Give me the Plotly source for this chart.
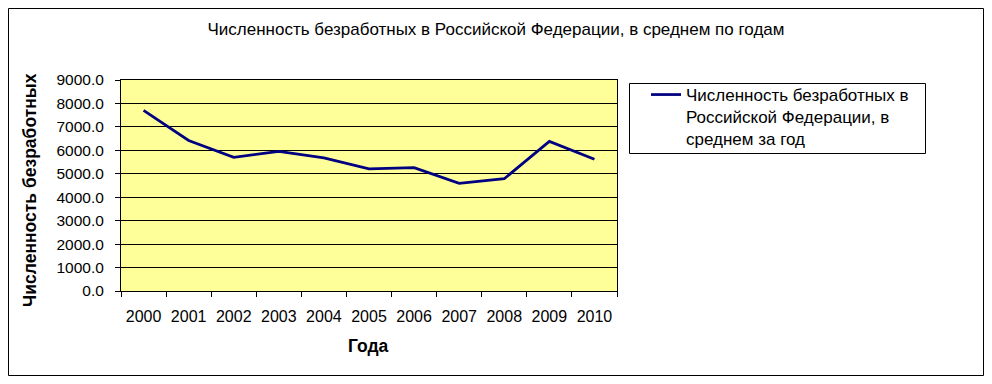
import plotly.graph_objects as go

years = ["2000", "2001", "2002", "2003", "2004", "2005", "2006", "2007", "2008", "2009", "2010"]
unemployed = [7700, 6420, 5700, 5960, 5680, 5210, 5260, 4590, 4790, 6380, 5620]
y_ticks = [0, 1000, 2000, 3000, 4000, 5000, 6000, 7000, 8000, 9000]

# page body has an 8px margin; figure sits at (8, 8) in the window
OFF = 8
W, H = 992 - 2 * OFF, 384 - 2 * OFF
L, R, T, B = 121, 617, 80, 291          # plot area in window pixels
pw, ph = R - L, B - T

def px(x):
    return (x - L) / pw

def py(y):
    return (B - y) / ph

fig = go.Figure()
fig.add_trace(go.Scatter(
    x=years, y=unemployed, mode="lines",
    line=dict(color="#000080", width=2.75),
    name="Численность безработных в<br>Российской Федерации, в<br>среднем за год",
))

fig.update_layout(
    width=W, height=H,
    margin=dict(l=L - OFF, r=W - (R - OFF), t=T - OFF, b=H - (B - OFF), pad=0),
    paper_bgcolor="white",
    plot_bgcolor="#FFFF99",
    font=dict(family="Liberation Sans, Arial, sans-serif", size=16, color="black"),
    showlegend=True,
    title=dict(text="Численность безработных в Российской Федерации, в среднем по годам",
               x=0.5, xanchor="center", xref="container",
               y=1 - (29 - OFF) / H, yanchor="middle", font=dict(size=17)),
    legend=dict(x=px(646), y=py(77), xanchor="left", yanchor="top",
                borderwidth=0, bgcolor="rgba(0,0,0,0)", valign="top",
                font=dict(size=17), tracegroupgap=0),
    xaxis=dict(type="category", tickson="boundaries", ticks="outside", ticklen=5,
               tickcolor="black", showline=True, linecolor="black", linewidth=1,
               showgrid=False, mirror=True, range=[-0.5, 10.5],
               tickfont=dict(size=16), ticklabelstandoff=11),
    yaxis=dict(range=[0, 9000], tickvals=y_ticks, tickformat=".1f", ticks="outside",
               ticklen=5, tickcolor="black", showline=True, linecolor="black",
               linewidth=1, mirror=True, showgrid=True, gridcolor="black", gridwidth=1,
               zeroline=False, tickfont=dict(size=15.5), ticklabelstandoff=8),
    annotations=[
        dict(text="<b>Численность безработных</b>", textangle=-90,
             xref="paper", yref="paper", x=px(30), y=py(190),
             xanchor="center", yanchor="middle", showarrow=False,
             font=dict(size=17.5)),
        dict(text="<b>Года</b>", xref="paper", yref="paper", x=px(368), y=py(346),
             xanchor="center", yanchor="middle", showarrow=False,
             font=dict(size=17.5)),
    ],
    shapes=[
        dict(type="rect", xref="paper", yref="paper",
             x0=px(8.5), x1=px(983.5), y0=py(375.5), y1=py(8.5),
             line=dict(color="black", width=1), fillcolor="rgba(0,0,0,0)",
             layer="below"),
        dict(type="rect", xref="paper", yref="paper",
             x0=px(629.5), x1=px(925.5), y0=py(153.5), y1=py(83.5),
             line=dict(color="black", width=1), fillcolor="white",
             layer="below"),
    ],
)

fig.write_html("out.html")
